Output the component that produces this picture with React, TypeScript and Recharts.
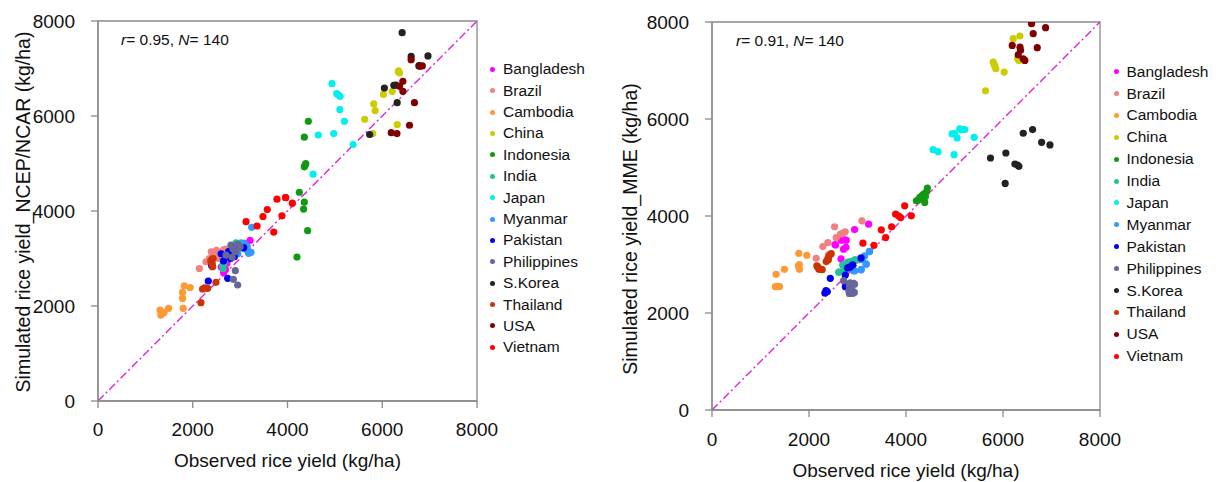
import {
  ScatterChart,
  Scatter,
  XAxis,
  YAxis,
  ReferenceLine,
  ReferenceArea,
  Legend,
} from "recharts";

const countries = [
  "Bangladesh",
  "Brazil",
  "Cambodia",
  "China",
  "Indonesia",
  "India",
  "Japan",
  "Myanmar",
  "Pakistan",
  "Philippines",
  "S.Korea",
  "Thailand",
  "USA",
  "Vietnam",
];

const colors = [
  "#ff00ff",
  "#f28080",
  "#ff9933",
  "#cccc00",
  "#119911",
  "#22c39b",
  "#00f0f0",
  "#3399ff",
  "#0000ee",
  "#666699",
  "#222222",
  "#cc3300",
  "#800000",
  "#ff0000",
];

const ticks = [0, 2000, 4000, 6000, 8000];

// [observed, simulated] per country, NCEP/NCAR run
const ncepPoints: number[][][] = [
  [[3210, 3380], [2690, 2770], [2650, 2700], [2720, 2900], [2800, 3050], [3050, 3250], [2900, 3150], [2750, 2980], [3100, 3320], [2600, 2820]],
  [[2390, 3140], [2575, 3130], [2280, 2930], [2140, 2790], [2650, 3180], [2450, 3050], [2500, 3170], [2350, 3000], [2700, 3200], [2550, 3000]],
  [[1310, 1915], [1325, 1810], [1395, 1865], [1490, 1950], [1785, 2160], [1820, 2425], [1945, 2390], [1785, 2285], [1800, 1950], [1350, 1830]],
  [[6345, 6950], [6365, 6905], [6210, 6520], [6025, 6455], [5820, 6255], [5850, 6115], [5630, 5930], [6315, 5820], [5800, 5630], [6340, 6930]],
  [[4440, 5890], [4355, 5555], [4385, 5000], [4355, 4930], [4250, 4395], [4355, 4185], [4340, 4040], [4425, 3585], [4200, 3030], [4370, 4960]],
  [[2913, 3332], [3019, 3332], [2631, 2863], [2640, 2790], [2700, 3000], [2950, 3250], [2800, 3100], [2660, 2900], [3050, 3300], [2750, 3150]],
  [[4940, 6680], [5040, 6470], [5110, 6415], [5105, 6135], [5200, 5890], [4975, 5630], [4650, 5600], [5385, 5400], [4540, 4775], [5080, 6440]],
  [[3244, 3656], [3089, 3320], [3180, 3109], [2983, 3214], [3000, 3300], [3150, 3250], [2950, 3100], [3100, 3200], [2900, 3250], [3230, 3130]],
  [[2758, 3143], [3075, 3227], [2878, 3037], [2328, 2526], [2737, 2583], [2400, 2850], [2800, 3000], [2650, 2950], [2600, 3100], [2900, 3200]],
  [[2807, 3284], [2913, 3143], [2829, 3025], [2899, 2743], [2857, 2562], [2948, 2442], [2702, 3073], [2950, 3300], [2850, 3200], [3000, 3250]],
  [[6420, 7755], [6610, 7255], [6965, 7265], [6775, 7055], [6045, 6590], [6245, 6645], [6315, 6280], [5735, 5610], [6290, 6650], [6780, 7060]],
  [[2406, 2983], [2419, 2827], [2410, 2900], [2490, 2499], [2313, 2372], [2207, 2358], [2173, 2069], [2380, 2950], [2250, 2380], [2430, 3000]],
  [[6610, 7185], [6845, 7055], [6435, 6730], [6365, 6625], [6435, 6520], [6680, 6280], [6575, 5805], [6190, 5650], [6310, 5630], [6800, 7050]],
  [[3125, 3775], [3358, 3684], [3573, 4031], [3482, 3884], [3778, 4249], [3961, 4284], [4102, 4165], [3883, 3898], [3710, 3557], [3960, 4280]],
];

// [observed, simulated] per country, multi-model ensemble
const mmePoints: number[][][] = [
  [[2940, 3721], [3229, 3831], [2547, 3404], [2665, 3501], [2768, 3501], [2713, 3315], [2660, 3115], [2536, 3411], [2729, 3507], [2763, 3355]],
  [[2527, 3776], [3091, 3900], [2561, 3556], [2651, 3625], [2747, 3673], [2389, 3452], [2286, 3370], [2148, 3129], [2400, 3200], [2700, 3650]],
  [[1790, 3232], [1955, 3191], [1783, 2970], [1804, 2901], [1494, 2901], [1322, 2798], [1308, 2543], [1391, 2543], [1350, 2550], [1800, 3000]],
  [[6210, 7656], [6348, 7711], [6327, 7208], [5797, 7173], [5832, 7091], [5852, 7036], [6024, 6967], [5639, 6581], [6300, 7250], [5820, 7120]],
  [[4214, 4314], [4283, 4383], [4365, 4452], [4441, 4576], [4386, 4279], [4317, 4362], [4250, 4330], [4420, 4500], [4400, 4400], [4330, 4420]],
  [[2611, 2838], [2694, 2991], [2867, 3066], [2974, 3087], [2713, 2984], [2871, 3039], [2630, 2846], [2800, 3050], [2950, 3100], [2750, 2900]],
  [[4950, 5692], [5054, 5609], [5109, 5795], [5212, 5781], [5405, 5623], [4992, 5265], [4558, 5368], [4661, 5327], [5150, 5780], [5000, 5700]],
  [[3250, 3266], [3181, 3004], [3078, 2901], [2940, 2867], [3147, 3177], [3177, 3011], [3073, 2887], [3245, 3272], [2921, 2873], [3100, 3100]],
  [[2350, 2460], [2439, 2714], [2749, 2784], [2797, 2929], [2900, 2991], [3073, 3136], [2749, 2542], [2327, 2412], [2850, 2950], [2375, 2439]],
  [[2714, 2666], [2921, 2611], [2832, 2563], [2935, 2425], [2832, 2404], [2940, 2591], [2823, 2453], [2906, 2405], [2850, 2620], [2880, 2500]],
  [[6417, 5706], [6610, 5781], [6796, 5520], [6968, 5465], [5742, 5196], [6059, 5299], [6245, 5072], [6327, 5024], [6045, 4672], [6300, 5050]],
  [[2458, 3225], [2389, 3129], [2355, 3060], [2162, 2970], [2203, 2901], [2272, 2894], [2180, 2950], [2420, 3180], [2250, 2900], [2400, 3100]],
  [[6589, 7966], [6623, 7759], [6878, 7883], [6706, 7470], [6190, 7518], [6362, 7415], [6314, 7325], [6417, 7242], [6451, 7208], [6350, 7480]],
  [[3973, 4210], [3787, 4038], [3890, 3969], [4110, 4004], [3491, 3714], [3704, 3776], [3580, 3556], [3339, 3397], [3112, 3439], [3850, 4000]],
];

const FONT = '"Liberation Sans", Arial, sans-serif';
const AXIS = "#8a8a8a";

const Dot = (props: any) => (
  <circle cx={props.cx} cy={props.cy} r={3.6} fill={props.fill} />
);

type PanelProps = {
  points: number[][][];
  left: number;
  width: number;
  margin: { top: number; right: number; left: number; bottom: number };
  yAxisWidth: number;
  xAxisHeight: number;
  xTickMargin: number;
  xTitleOffset: number;
  yLabel: string;
  yLabelPos: [number, number];
  r: string;
  statPos: [number, number];
  legendPos: [number, number];
  rowH: number;
};

function Panel(p: PanelProps) {
  // keep the legend in the same order as the series, not alphabetical
  const renderLegend = (props: any) => {
    const items = [...(props.payload || [])].sort(
      (a: any, b: any) => countries.indexOf(a.value) - countries.indexOf(b.value)
    );
    return (
      <div style={{ fontFamily: FONT, fontSize: 15.5, color: "#111" }}>
        {items.map((e: any) => (
          <div
            key={e.value}
            style={{ display: "flex", alignItems: "center", height: p.rowH }}
          >
            <span
              style={{
                width: 5,
                height: 5,
                borderRadius: "50%",
                background: e.color,
                marginRight: 8,
              }}
            />
            <span>{e.value}</span>
          </div>
        ))}
      </div>
    );
  };

  return (
    <div style={{ position: "absolute", left: p.left, top: 0 }}>
      <ScatterChart width={p.width} height={482} margin={p.margin}>
        <ReferenceArea
          x1={0}
          x2={8000}
          y1={0}
          y2={8000}
          fill="none"
          stroke={AXIS}
          strokeWidth={1.3}
        />
        <XAxis
          type="number"
          dataKey="x"
          domain={[0, 8000]}
          ticks={ticks}
          allowDataOverflow
          height={p.xAxisHeight}
          stroke={AXIS}
          strokeWidth={1.3}
          tickSize={7}
          tickMargin={p.xTickMargin}
          tick={{ fill: "#111", fontSize: 19 }}
          label={{
            value: "Observed rice yield (kg/ha)",
            position: "insideBottom",
            offset: p.xTitleOffset,
            style: { fill: "#111", fontSize: 19 },
          }}
        />
        <YAxis
          type="number"
          dataKey="y"
          domain={[0, 8000]}
          ticks={ticks}
          allowDataOverflow
          width={p.yAxisWidth}
          stroke={AXIS}
          strokeWidth={1.3}
          tickSize={7}
          tickMargin={16}
          tick={{ fill: "#111", fontSize: 19 }}
          label={{
            content: () => (
              <text
                transform={`translate(${p.yLabelPos[0]},${p.yLabelPos[1]}) rotate(-90)`}
                textAnchor="middle"
                dominantBaseline="central"
                fill="#111"
                fontSize={19.5}
              >
                {p.yLabel}
              </text>
            ),
          }}
        />
        <ReferenceLine
          segment={[
            { x: 0, y: 0 },
            { x: 8000, y: 8000 },
          ]}
          stroke="#e020e0"
          strokeWidth={1.4}
          strokeDasharray="8 3 2 3"
        />
        {countries.map((c, i) => (
          <Scatter
            key={c}
            name={c}
            data={p.points[i].map(([x, y]) => ({ x, y }))}
            fill={colors[i]}
            shape={Dot}
            isAnimationActive={false}
          />
        ))}
        <Legend
          layout="vertical"
          align="center"
          verticalAlign="middle"
          content={renderLegend}
          wrapperStyle={{
            left: p.legendPos[0],
            top: p.legendPos[1],
            width: 130,
          }}
        />
      </ScatterChart>
      <div
        style={{
          position: "absolute",
          left: p.statPos[0],
          top: p.statPos[1],
          fontFamily: FONT,
          fontSize: 15.5,
          lineHeight: "16px",
          color: "#111",
          whiteSpace: "nowrap",
        }}
      >
        <i>r</i>= {p.r}, <i>N</i>= 140
      </div>
    </div>
  );
}

export default function App() {
  return (
    <div
      style={{
        position: "absolute",
        left: 0,
        top: 0,
        width: 1221,
        height: 482,
        background: "#fff",
        fontFamily: FONT,
        overflow: "hidden",
      }}
    >
      <Panel
        points={ncepPoints}
        left={0}
        width={620}
        margin={{ top: 21, right: 143, left: 0, bottom: 0 }}
        yAxisWidth={98}
        xAxisHeight={81}
        xTickMargin={15}
        xTitleOffset={15}
        yLabel="Simulated rice yield_NCEP/NCAR (kg/ha)"
        yLabelPos={[23, 212]}
        r="0.95"
        statPos={[121, 32]}
        legendPos={[490, 58.6]}
        rowH={21.4}
      />
      <Panel
        points={mmePoints}
        left={620}
        width={601}
        margin={{ top: 22, right: 121, left: 0, bottom: 0 }}
        yAxisWidth={92}
        xAxisHeight={72}
        xTickMargin={16}
        xTitleOffset={5}
        yLabel="Simulated rice yield_MME (kg/ha)"
        yLabelPos={[10, 229]}
        r="0.91"
        statPos={[116, 33]}
        legendPos={[493.5, 60.7]}
        rowH={21.9}
      />
    </div>
  );
}
